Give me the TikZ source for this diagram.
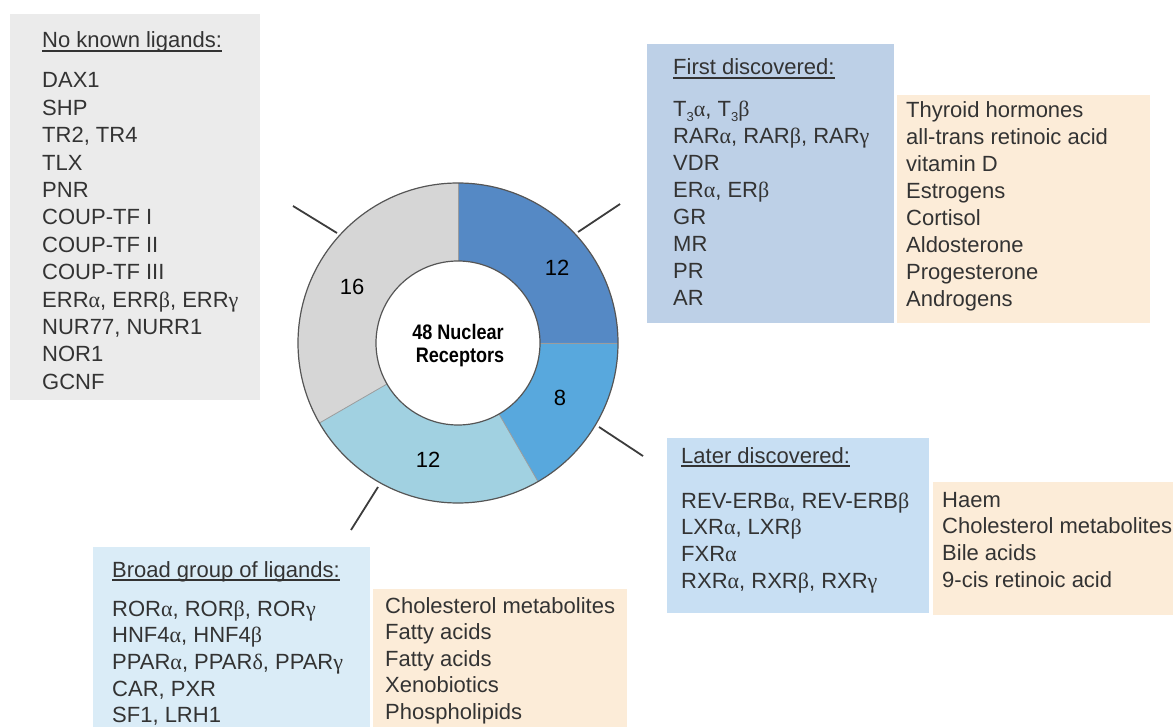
\documentclass[tikz,border=0pt]{standalone}
\usepackage{fontspec}
\usepackage{graphicx}
\setmainfont{Liberation Sans}
\newfontfamily\grkfont{Liberation Serif}
\newcommand{\myal}{{\grkfont α}}
\newcommand{\mybe}{{\grkfont β}}
\newcommand{\myga}{{\grkfont γ}}
\newcommand{\myde}{{\grkfont δ}}
\newcommand{\lowthree}{\raisebox{-0.4ex}{\fontsize{13}{13}\selectfont 3}}
\definecolor{txtc}{HTML}{333333}
\definecolor{grayfill}{HTML}{EBEBEB}
\definecolor{firstfill}{HTML}{BDD0E7}
\definecolor{laterfill}{HTML}{C8DFF3}
\definecolor{broadfill}{HTML}{DAECF7}
\definecolor{peach}{HTML}{FCECD8}
\definecolor{segA}{HTML}{5589C5}
\definecolor{segB}{HTML}{58A8DD}
\definecolor{segC}{HTML}{A1D1E1}
\definecolor{segD}{HTML}{D6D6D6}
\definecolor{ringline}{HTML}{555555}
\definecolor{sepline}{HTML}{9C9C9C}
\definecolor{tickc}{HTML}{3C3C3C}
\tikzset{
  txt/.style={inner sep=0pt, anchor=base west, text=txtc, font=\fontsize{22}{26}\selectfont},
  numlbl/.style={inner sep=0pt, text=black, font=\fontsize{22}{26}\selectfont},
  ctr/.style={inner sep=0pt, text=black, font=\fontsize{21}{25}\bfseries\selectfont},
  panel/.style={draw=none, inner sep=0pt, anchor=north west},
  seg/.style={draw=sepline, line width=0.8pt},
  ulinestyle/.style={draw=txtc, line width=1.2pt},
  tickline/.style={draw=tickc, line width=1.8pt}
}
\begin{document}
\begin{tikzpicture}[x=1pt,y=-1pt]
\useasboundingbox (0,0) rectangle (1173,727);
% panels
\node[panel, fill=grayfill, minimum width=250pt, minimum height=386pt] (pgray) at (10,14) {};
\node[panel, fill=firstfill, minimum width=247pt, minimum height=279pt] (pfirst) at (647,44) {};
\node[panel, fill=peach, minimum width=253pt, minimum height=228pt] (pfirstl) at (897,95) {};
\node[panel, fill=laterfill, minimum width=262pt, minimum height=175pt] (plater) at (667,438) {};
\node[panel, fill=peach, minimum width=240pt, minimum height=133pt] (platerl) at (933,482) {};
\node[panel, fill=broadfill, minimum width=277pt, minimum height=180pt] (pbroad) at (93,547) {};
\node[panel, fill=peach, minimum width=254pt, minimum height=138pt] (pbroadl) at (373,589) {};

% donut
\begin{scope}[shift={(458,343)}, yscale=-1]
  \fill[segA] (0:160) arc[start angle=0, end angle=90, radius=160] -- (90:82) arc[start angle=90, end angle=0, radius=82] -- cycle;
  \fill[segD] (90:160) arc[start angle=90, end angle=210, radius=160] -- (210:82) arc[start angle=210, end angle=90, radius=82] -- cycle;
  \fill[segC] (210:160) arc[start angle=210, end angle=300, radius=160] -- (300:82) arc[start angle=300, end angle=210, radius=82] -- cycle;
  \fill[segB] (300:160) arc[start angle=300, end angle=360, radius=160] -- (360:82) arc[start angle=360, end angle=300, radius=82] -- cycle;
  \foreach \a in {0,90,210,300} { \draw[seg] (\a:82) -- (\a:160); }
  \draw[draw=ringline, line width=1.2pt] (0,0) circle[radius=160];
  \draw[draw=ringline, line width=1.2pt, fill=white] (0,0) circle[radius=82];
\end{scope}
\node[ctr] (c1) at (458,332) {\scalebox{0.86}[1]{48 Nuclear}};
\node[ctr] (c2) at (460,357) {\scalebox{0.86}[1]{Receptors}};
\node[numlbl] (n1) at (557,268) {12};
\node[numlbl] (n2) at (560,398) {8};
\node[numlbl] (n3) at (428,460) {12};
\node[numlbl] (n4) at (352,287) {16};

% tick lines
\coordinate (tA1) at (578,232); \coordinate (tA2) at (620,204);
\coordinate (tB1) at (599,427); \coordinate (tB2) at (643,456);
\coordinate (tC1) at (378,487); \coordinate (tC2) at (351,530);
\coordinate (tD1) at (337,233); \coordinate (tD2) at (293,206);
\draw[tickline] (tA1) -- (tA2);
\draw[tickline] (tB1) -- (tB2);
\draw[tickline] (tC1) -- (tC2);
\draw[tickline] (tD1) -- (tD2);

% titles
\node[txt] (hgray) at (42,48) {No known ligands:};
\node[txt] (hfirst) at (673,75) {First discovered:};
\node[txt] (hlater) at (681,463) {Later discovered:};
\node[txt] (hbroad) at (112,577) {Broad group of ligands:};
\foreach \h in {hgray,hfirst,hlater,hbroad} {
  \draw[ulinestyle] ([yshift=-3pt]\h.base west) -- ([yshift=-3pt]\h.base east);
}

% no known ligands
\foreach \t [count=\i] in {DAX1, SHP, {TR2, TR4}, TLX, PNR, COUP-TF I, COUP-TF II, COUP-TF III,
  {ERR\myal, ERR\mybe, ERR\myga}, {NUR77, NURR1}, NOR1, GCNF}
  { \node[txt] (g\i) at (42, {88+(\i-1)*27.4}) {\t}; }

% first discovered
\foreach \t [count=\i] in {{T\lowthree\myal, T\lowthree\mybe}, {RAR\myal, RAR\mybe, RAR\myga}, VDR,
  {ER\myal, ER\mybe}, GR, MR, PR, AR}
  { \node[txt] (f\i) at (673, {117+(\i-1)*26.9}) {\t}; }
\foreach \t [count=\i] in {Thyroid hormones, all-trans retinoic acid, vitamin D, Estrogens,
  Cortisol, Aldosterone, Progesterone, Androgens}
  { \node[txt] (fl\i) at (906, {118+(\i-1)*26.9}) {\t}; }

% later discovered
\foreach \t [count=\i] in {{REV-ERB\myal, REV-ERB\mybe}, {LXR\myal, LXR\mybe}, FXR\myal,
  {RXR\myal, RXR\mybe, RXR\myga}}
  { \node[txt] (l\i) at (681, {508+(\i-1)*26.7}) {\t}; }
\foreach \t [count=\i] in {Haem, Cholesterol metabolites, Bile acids, 9-cis retinoic acid}
  { \node[txt] (ll\i) at (942, {507+(\i-1)*26.7}) {\t}; }

% broad group
\foreach \t [count=\i] in {{ROR\myal, ROR\mybe, ROR\myga}, {HNF4\myal, HNF4\mybe},
  {PPAR\myal, PPAR\myde, PPAR\myga}, {CAR, PXR}, {SF1, LRH1}}
  { \node[txt] (b\i) at (112, {616+(\i-1)*26.7}) {\t}; }
\foreach \t [count=\i] in {Cholesterol metabolites, Fatty acids, Fatty acids, Xenobiotics, Phospholipids}
  { \node[txt] (bl\i) at (385, {613+(\i-1)*26.5}) {\t}; }
\end{tikzpicture}
\end{document}
